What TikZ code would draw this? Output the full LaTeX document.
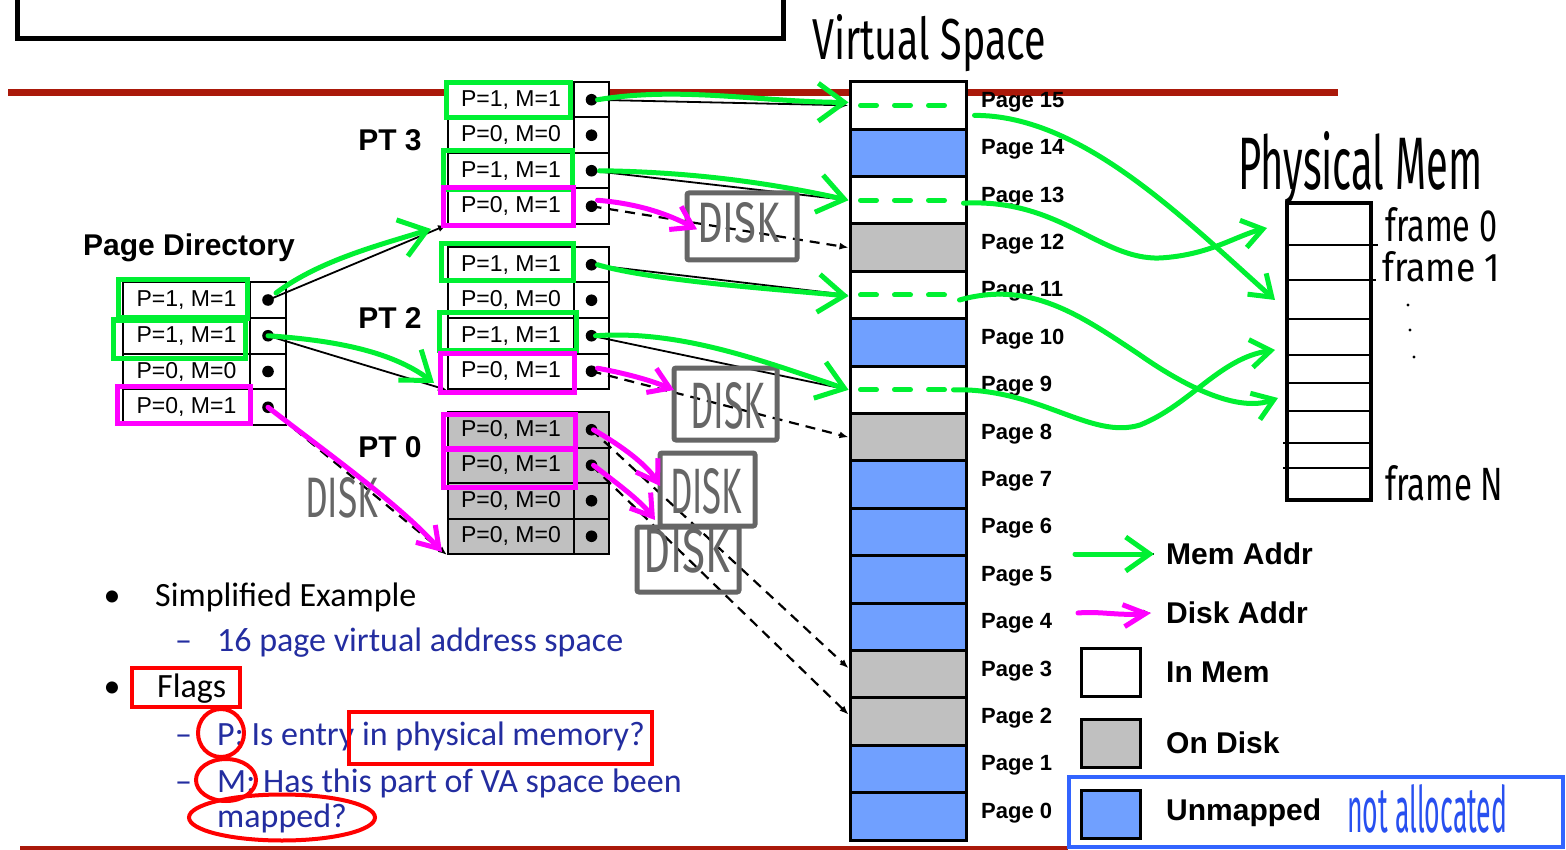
\documentclass[tikz,border=0pt]{standalone}
\usepackage{fontspec}
\usepackage{graphicx}
\setmainfont{Liberation Sans}
\newfontfamily\carl{Carlito}
\newfontfamily\hwf{Fira Sans}
\usetikzlibrary{arrows.meta}
\definecolor{hgreen}{RGB}{0,240,50}
\definecolor{hmag}{RGB}{255,0,255}
\definecolor{redline}{RGB}{170,25,10}
\definecolor{ublue}{RGB}{112,160,255}
\definecolor{dgray}{RGB}{192,192,192}
\definecolor{diskgray}{RGB}{102,102,102}
\definecolor{txtblue}{RGB}{35,45,160}
\definecolor{outblue}{RGB}{50,100,255}
\definecolor{hwblue}{RGB}{40,80,240}
\newcommand\hw[3]{\resizebox{#1pt}{#2pt}{#3}}
\begin{document}
\begin{tikzpicture}[x=1pt,y=-1pt,
  cell/.style={draw=black,line width=2pt,inner sep=0pt,fill=white,font=\fontsize{23}{23}\selectfont},
  pdt/.style={cell,minimum width=127pt,minimum height=35.75pt},
  pdd/.style={cell,minimum width=36pt,minimum height=35.75pt},
  ptt/.style={cell,minimum width=126pt,minimum height=35.5pt},
  ptd/.style={cell,minimum width=35pt,minimum height=35.5pt},
  boldlab/.style={inner sep=0pt,font=\fontsize{30}{30}\selectfont\bfseries},
  vsc/.style={draw=black,line width=3pt,minimum width=116pt,minimum height=47.4pt,inner sep=0pt},
  vsl/.style={anchor=west,inner sep=0pt,font=\fontsize{22}{22}\selectfont\bfseries},
  gbox/.style={draw=hgreen,line width=5pt},
  mbox/.style={draw=hmag,line width=5pt},
  garr/.style={draw=hgreen,line width=5pt,line cap=round,-{Straight Barb[length=26pt,width=38pt]}},
  garrs/.style={draw=hgreen,line width=5pt,line cap=round,-{Straight Barb[length=20pt,width=28pt]}},
  marr/.style={draw=hmag,line width=5pt,line cap=round,-{Straight Barb[length=20pt,width=26pt]}},
  blk/.style={draw=black,line width=1.8pt,-{Latex[length=9pt,width=7pt]}},
  blkd/.style={blk,line width=2.2pt,dash pattern=on 10pt off 7pt},
  diskbox/.style={draw=diskgray,line width=5pt,rounded corners=2pt},
  hwn/.style={anchor=base west,inner sep=0pt},
  txt/.style={anchor=base west,inner sep=0pt,font=\carl\fontsize{34}{34}\selectfont},
  gdash/.style={draw=hgreen,line width=5pt,line cap=round,dash pattern=on 16pt off 18pt},
  leg/.style={draw=black,line width=3pt,minimum width=59pt,minimum height=48pt,inner sep=0pt},
  legt/.style={anchor=west,inner sep=0pt,font=\fontsize{30}{30}\selectfont\bfseries},
  redann/.style={draw=red,line width=4pt}
]
\useasboundingbox (0,0) rectangle (1566,850);
\fill[white] (0,0) rectangle (1566,850);

% title box and rules
\draw[line width=5pt] (17,-10) -- (17,39) -- (783,39) -- (783,-10);
\draw[redline,line width=7pt] (8,93) -- (1338,93);
\draw[redline,line width=5pt] (20,848) -- (1068,848);

% Page directory
\node[boldlab] (pdlab) at (189,248) {Page Directory};
\foreach \i/\lab in {0/{P=1, M=1},1/{P=1, M=1},2/{P=0, M=0},3/{P=0, M=1}}{
  \node[pdt] (pdt\i) at (186.5,{300+35.75*\i}) {\lab};
  \node[pdd] (pdd\i) at (268,{300+35.75*\i}) {};
  \fill (pdd\i.center) circle (5.8);
}

% Page tables
\node[boldlab] (pt3lab) at (390,140) {PT 3};
\node[boldlab] (pt2lab) at (390,318) {PT 2};
\node[boldlab] (pt0lab) at (390,447) {PT 0};
\foreach \i/\lab in {0/{P=1, M=1},1/{P=0, M=0},2/{P=1, M=1},3/{P=0, M=1}}{
  \node[ptt] (pt3t\i) at (511,{99.75+35.5*\i}) {\lab};
  \node[ptd] (pt3d\i) at (591.5,{99.75+35.5*\i}) {};
  \fill (pt3d\i.center) circle (5.8);
  \node[ptt] (pt2t\i) at (511,{264.75+35.5*\i}) {\lab};
  \node[ptd] (pt2d\i) at (591.5,{264.75+35.5*\i}) {};
  \fill (pt2d\i.center) circle (5.8);
}
\foreach \i/\lab in {0/{P=0, M=1},1/{P=0, M=1},2/{P=0, M=0},3/{P=0, M=0}}{
  \node[ptt,fill=dgray] (pt0t\i) at (511,{429.75+35.5*\i}) {\lab};
  \node[ptd,fill=dgray] (pt0d\i) at (591.5,{429.75+35.5*\i}) {};
  \fill (pt0d\i.center) circle (5.8);
}

% Virtual space
\node[hwn,font=\hwf] (vstitle) at (812,60) {\hw{234}{45}{Virtual Space}};
\foreach \p/\c [count=\k from 0] in {15/white,14/ublue,13/white,12/dgray,11/white,10/ublue,9/white,8/dgray,7/ublue,6/ublue,5/ublue,4/ublue,3/dgray,2/dgray,1/ublue,0/ublue}{
  \node[vsc,fill=\c] (vs\p) at (908,{105.4+47.4*\k}) {};
  \node[vsl] (vl\p) at (981,{102+47.4*\k}) {Page \p};
}

% Physical memory
\node[hwn,font=\hwf] (pmtitle) at (1238,190) {\hw{244}{58}{Physical Mem}};
\node[draw=black,line width=4.5pt,minimum width=84pt,minimum height=297pt,inner sep=0pt] (pm) at (1329,351.5) {};
\foreach \y/\a/\b in {245/1289/1378,280/1289/1376,319/1289/1369,355/1289/1369,383/1289/1372,411/1289/1372,443/1283/1369,468/1283/1372}{
  \draw[line width=2pt] (\a,\y) -- (\b,\y);
}
\node[hwn,font=\hwf] (fr0) at (1385,242) {\hw{112}{34}{frame 0}};
\node[hwn,font=\hwf] (fr1) at (1382,282) {\hw{118}{30}{frame 1}};
\node[hwn,font=\hwf] (frn) at (1385,500) {\hw{118}{35}{frame N}};
\fill (1408,305) circle (1.6);
\fill (1410,330) circle (1.6);
\fill (1414,357) circle (1.6);
\coordinate (tipA) at (1267,228);
\coordinate (tipB) at (1275,300);
\coordinate (tipC) at (1275,350);
\coordinate (tipD) at (1278,398);

% black connectors
\draw[blk] (pdd0.center) -- (pt3t3.south west);
\draw[blk] (pdd1.center) -- (pt2t3.south west);
\draw[blkd] (pdd3.center) -- (pt0t3.south west);
\draw[blk] (pt3d0.center) -- (vs15.west);
\draw[blk] (pt3d2.center) -- (vs13.west);
\draw[blkd] (pt3d3.center) -- (vs12.west);
\draw[blk] (pt2d0.center) -- (vs11.west);
\draw[blk] (pt2d2.center) -- (vs9.west);
\draw[blkd] (pt2d3.center) -- (vs8.west);
\draw[blkd] (pt0d0.center) -- ([yshift=6pt]vs3.west);
\draw[blkd] (pt0d1.center) -- ([yshift=7pt]vs2.west);

% DISK boxes
\draw[diskbox] (687,193) rectangle (797,260);
\draw[diskbox] (674,368) rectangle (777,440);
\draw[diskbox] (660,453) rectangle (755,526);
\draw[diskbox] (637,527) rectangle (739,592);
\node[hwn,font=\hwf,text=diskgray] (disk1) at (697,243) {\hw{83}{40}{DISK}};
\node[hwn,font=\hwf,text=diskgray] (disk2) at (690,428) {\hw{75}{46}{DISK}};
\node[hwn,font=\hwf,text=diskgray] (disk3) at (670,513) {\hw{72}{45}{DISK}};
\node[hwn,font=\hwf,text=diskgray] (disk4) at (643,572) {\hw{87}{44}{DISK}};
\node[hwn,font=\hwf,text=diskgray] (disk0) at (305,517) {\hw{73}{40}{DISK}};

% highlight boxes
\draw[gbox] (118,280) rectangle (247,318);
\draw[gbox] (113,320) rectangle (245,358);
\draw[mbox] (117,386) rectangle (250,423);
\draw[gbox] (446,83) rectangle (570,118);
\draw[gbox] (443,151) rectangle (572,190);
\draw[mbox] (443,188) rectangle (573,226);
\draw[gbox] (441,244) rectangle (573,281);
\draw[gbox] (439,313) rectangle (576,350);
\draw[mbox] (440,353) rectangle (574,392);
\draw[mbox] (443,414) rectangle (575,448);
\draw[mbox] (443,449) rectangle (575,487);

% green dashes in resident pages
\foreach \p in {15,13,11,9}{
  \draw[gdash] ([xshift=12pt]vs\p.west) -- ([xshift=-12pt]vs\p.east);
}

% green / magenta overlays
\draw[garr] ([shift={(8,-7)}]pdd0.center) .. controls (320,260) and (380,245) .. ([shift={(-16,4)}]pt3t3.south west);
\draw[garr] (pdd1.center) .. controls (330,340) and (390,350) .. ([shift={(-13,-7)}]pt2t3.south west);
\draw[marr] (pdd3.center) .. controls (330,455) and (400,505) .. ([shift={(-5,-3)}]pt0t3.south west);
\draw[garr] ([xshift=6pt]pt3d0.center) .. controls (680,86) and (760,102) .. ([yshift=3pt]vs15.west);
\draw[garr] ([xshift=8pt]pt3d2.center) .. controls (700,172) and (780,185) .. (vs13.west);
\draw[garr] ([xshift=6pt]pt2d0.center) .. controls (650,280) and (760,288) .. ([yshift=-1pt]vs11.west);
\draw[garr] ([xshift=4pt]pt2d2.center) .. controls (680,330) and (760,360) .. (vs9.west);
\draw[marr] ([shift={(6,-6)}]pt3d3.center) .. controls (630,203) and (660,210) .. ([yshift=-6pt]disk1.west);
\draw[marr] ([shift={(6,-3)}]pt2d3.center) .. controls (630,374) and (655,382) .. (674,390);
\draw[marr] ([xshift=2pt]pt0d0.center) .. controls (615,442) and (645,462) .. (660,486);
\draw[marr] ([xshift=2pt]pt0d1.center) .. controls (615,482) and (640,500) .. (655,520);
\draw[garrs] ([shift={(7,10)}]vs15.east) .. controls (1080,115) and (1180,215) .. (tipB);
\draw[garrs] ([shift={(-4,3)}]vs13.east) .. controls (1060,198) and (1100,260) .. (1160,258) .. controls (1210,255) and (1235,236) .. (tipA);
\draw[garrs] ([shift={(-8,5)}]vs11.east) .. controls (1030,280) and (1080,315) .. (1140,355) .. controls (1190,390) and (1240,412) .. (tipD);
\draw[garrs] ([shift={(-14,0)}]vs9.east) .. controls (1040,388) and (1090,440) .. (1140,425) .. controls (1190,405) and (1220,358) .. (tipC);

% legend
\coordinate (lgA1) at (1075,554);
\coordinate (lgA2) at (1154,554);
\coordinate (lgB1) at (1078,613);
\coordinate (lgB2) at (1151,613);
\draw[black,line width=1.5pt] (lgA1) -- (lgA2);
\draw[garr,-{Straight Barb[length=24pt,width=34pt]}] (lgA1) -- (lgA2);
\draw[black,line width=1.5pt,-{Latex[length=8pt,width=7pt]}] (lgB1) -- (lgB2);
\draw[marr,-{Straight Barb[length=22pt,width=22pt]}] (lgB1) .. controls (1100,611) and (1120,616) .. (lgB2);
\node[legt] (lgt1) at (1166,554) {Mem Addr};
\node[legt] (lgt2) at (1166,613) {Disk Addr};
\node[leg,fill=white] (lgmem) at (1110.5,672) {};
\node[leg,fill=dgray] (lgdisk) at (1110.5,743) {};
\node[leg,fill=ublue] (lgun) at (1110.5,814) {};
\node[legt] (lgt3) at (1166,672) {In Mem};
\node[legt] (lgt4) at (1166,743) {On Disk};
\node[legt] (lgt5) at (1166,813) {Unmapped};
\draw[outblue,line width=4.5pt] (1069,777) rectangle (1563,847);
\node[hwn,font=\hwf,text=hwblue] (notal) at (1347,832) {\hw{160}{48}{not allocated}};

% bottom-left text
\node[anchor=base,inner sep=0pt,font=\carl\fontsize{34}{34}\selectfont] (b1) at (112,606) {•};
\node[txt] (s1) at (155,606) {Simplified Example};
\node[txt,text=txtblue] (d1) at (175,651) {–};
\node[txt,text=txtblue] (s2) at (217,651) {16 page virtual address space};
\node[anchor=base,inner sep=0pt,font=\carl\fontsize{34}{34}\selectfont] (b2) at (112,697) {•};
\node[txt] (s3) at (157,697) {Flags};
\node[txt,text=txtblue] (d2) at (175,745) {–};
\node[txt,text=txtblue] (s4) at (217,745) {P: Is entry in physical memory?};
\node[txt,text=txtblue] (d3) at (175,792) {–};
\node[txt,text=txtblue] (s5) at (217,792) {M: Has this part of VA space been};
\node[txt,text=txtblue] (s6) at (217,827) {mapped?};
\draw[redann] (132,668) rectangle (240,707);
\draw[redann] (349,712) rectangle (652,764);
\draw[redann] (221,733) ellipse (23 and 24);
\draw[redann] (226,780) ellipse (30 and 21);
\draw[redann] (282,817.5) ellipse (93 and 23);
\end{tikzpicture}
\end{document}
